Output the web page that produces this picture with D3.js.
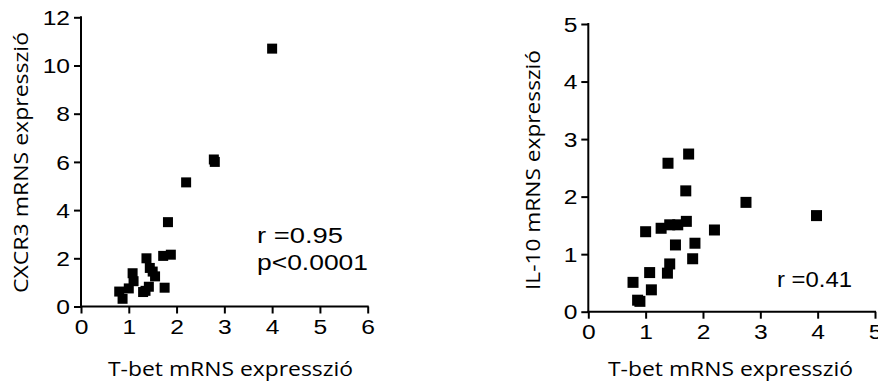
<!DOCTYPE html>
<html>
<head>
<meta charset="utf-8">
<script src="https://cdn.jsdelivr.net/npm/d3@7"></script>
<style>
  html, body { margin: 0; padding: 0; background: #fff; }
  svg { display: block; }
</style>
</head>
<body>
<svg id="chart" width="878" height="383"></svg>
<script>
// ---- Data ----
const cxcr3X = [4.0, 2.78, 2.8, 2.2, 1.82, 1.72, 1.88, 1.37, 1.44, 1.5, 1.55, 1.08, 1.1, 1.0, 0.8, 0.87, 1.3, 1.42, 1.75, 1.35];
const cxcr3Y = [10.7, 6.1, 6.0, 5.15, 3.5, 2.1, 2.15, 2.0, 1.6, 1.45, 1.25, 1.38, 1.05, 0.75, 0.62, 0.32, 0.6, 0.82, 0.78, 0.65];

const il10X = [1.75, 1.39, 1.70, 1.71, 1.56, 1.42, 1.27, 1.0, 2.2, 1.52, 1.86, 1.82, 1.42, 1.38, 1.07, 0.78, 1.10, 0.86, 0.9, 2.75, 3.98];
const il10Y = [2.74, 2.58, 2.10, 1.57, 1.51, 1.51, 1.45, 1.39, 1.42, 1.16, 1.19, 0.92, 0.83, 0.67, 0.68, 0.51, 0.38, 0.2, 0.18, 1.90, 1.67];

const leftXTicks = [0, 1, 2, 3, 4, 5, 6];
const leftYTicks = [0, 2, 4, 6, 8, 10, 12];
const rightXTicks = [0, 1, 2, 3, 4, 5];
const rightYTicks = [0, 1, 2, 3, 4, 5];

const xTitle = "T-bet mRNS expresszió";
const leftYTitle = "CXCR3 mRNS expresszió";
const rightYTitle = "IL-10 mRNS expresszió";
const leftNotes = ["r =0.95", "p<0.0001"];
const rightNotes = ["r =0.41"];

// ---- Drawing ----
const svg = d3.select("#chart");
const tickFont = "'Liberation Sans', Arial, sans-serif";
const titleFont = "'Open Sans', 'DejaVu Sans', sans-serif";
const sx = 1.2;

function panel(cfg) {
  const x = d3.scaleLinear().domain(cfg.xDomain).range(cfg.xRange);
  const y = d3.scaleLinear().domain(cfg.yDomain).range(cfg.yRange);
  const g = svg.append("g");

  const xAxis = g.append("g")
    .attr("transform", `translate(0,${cfg.yRange[0]})`)
    .call(d3.axisBottom(x).tickValues(cfg.xTicks).tickSize(7).tickSizeOuter(0).tickFormat(d3.format("d")));
  const yAxis = g.append("g")
    .attr("transform", `translate(${cfg.xRange[0]},0)`)
    .call(d3.axisLeft(y).tickValues(cfg.yTicks).tickSize(7).tickSizeOuter(0).tickFormat(d3.format("d")));

  [xAxis, yAxis].forEach(a => {
    a.select(".domain").attr("stroke", "#000").attr("stroke-width", 2);
    a.selectAll(".tick line").attr("stroke", "#000").attr("stroke-width", 2);
    a.selectAll(".tick text")
      .attr("fill", "#000")
      .style("font-family", tickFont)
      .style("font-size", "20.5px");
  });
  yAxis.select(".domain").attr("d", `M0,${cfg.yRange[1] - 1}V${cfg.yRange[0] + 1}`);
  xAxis.select(".domain").attr("d", `M${cfg.xRange[0] - 1},0H${cfg.xRange[1] + 1}`);

  xAxis.selectAll(".tick text")
    .attr("y", 13).attr("dy", "0.71em")
    .attr("transform", `scale(${sx},1)`);
  yAxis.selectAll(".tick text")
    .attr("x", -11 / sx).attr("dy", "0.35em")
    .attr("transform", `scale(${sx},1)`);

  // points
  const pts = cfg.xs.map((v, i) => ({ x: v, y: cfg.ys[i] }));
  g.append("g").selectAll("rect").data(pts).join("rect")
    .attr("x", d => x(d.x) - cfg.m / 2)
    .attr("y", d => y(d.y) - cfg.m / 2)
    .attr("width", cfg.m).attr("height", cfg.m)
    .attr("fill", "#000");

  // x title
  g.append("text")
    .attr("x", cfg.xTitlePos[0]).attr("y", cfg.xTitlePos[1])
    .attr("text-anchor", "middle")
    .attr("textLength", cfg.xTitleLen).attr("lengthAdjust", "spacingAndGlyphs")
    .style("font-family", titleFont).style("font-size", "19.5px").attr("fill", "#000")
    .text(xTitle);

  // y title
  g.append("text")
    .attr("transform", `translate(${cfg.yTitlePos[0]},${cfg.yTitlePos[1]}) rotate(-90)`)
    .attr("text-anchor", "middle")
    .attr("textLength", cfg.yTitleLen).attr("lengthAdjust", "spacingAndGlyphs")
    .style("font-family", titleFont).style("font-size", "19.5px").attr("fill", "#000")
    .text(cfg.yTitle);

  // notes
  cfg.notes.forEach((t, i) => {
    g.append("text")
      .attr("x", cfg.notePos[0]).attr("y", cfg.notePos[1] + i * 27)
      .attr("textLength", cfg.noteLens[i]).attr("lengthAdjust", "spacingAndGlyphs")
      .style("font-family", tickFont).style("font-size", "22px").attr("fill", "#000")
      .text(t);
  });
}

panel({
  xDomain: [0, 6], yDomain: [0, 12],
  xRange: [81, 367.7], yRange: [306.5, 17.3],
  xTicks: leftXTicks, yTicks: leftYTicks,
  xs: cxcr3X, ys: cxcr3Y, m: 10,
  xTitlePos: [230.5, 375.5], xTitleLen: 245,
  yTitle: leftYTitle, yTitlePos: [27.5, 162.5], yTitleLen: 261,
  notes: leftNotes, notePos: [257, 243.3], noteLens: [86, 111]
});

panel({
  xDomain: [0, 5], yDomain: [0, 5],
  xRange: [588.3, 875], yRange: [311.7, 24],
  xTicks: rightXTicks, yTicks: rightYTicks,
  xs: il10X, ys: il10Y, m: 11,
  xTitlePos: [730.5, 375.5], xTitleLen: 245,
  yTitle: rightYTitle, yTitlePos: [539.5, 170], yTitleLen: 240,
  notes: rightNotes, notePos: [777, 287.3], noteLens: [75]
});
</script>
</body>
</html>
